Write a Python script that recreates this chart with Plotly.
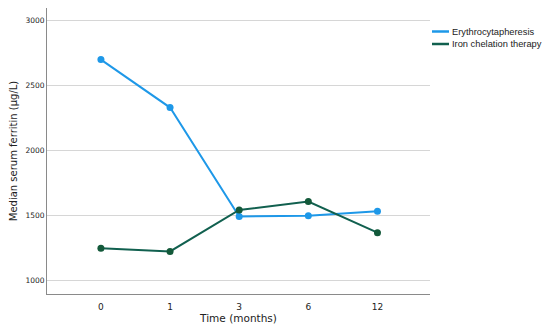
import plotly.graph_objects as go

times = ["0", "1", "3", "6", "12"]
erythro = [2700, 2330, 1490, 1495, 1530]
chelation = [1245, 1220, 1540, 1605, 1365]
series_names = ["Erythrocytapheresis", "Iron chelation therapy"]
y_ticks = [1000, 1500, 2000, 2500, 3000]

blue = "#1e98e8"
green_line = "#11604f"
green_marker = "#13593a"
colors_line = [blue, green_line]

# page body has an 8px margin, so the figure is sized to fit the 550x335 window
OFF = 8
W, H = 550 - OFF, 335 - 2 * OFF
L, R, T, B = 47 - OFF, 120, 0, 33

fig = go.Figure()
fig.add_trace(go.Scatter(x=times, y=erythro, mode="lines+markers", name=series_names[0],
                         line=dict(color=blue, width=2), marker=dict(color=blue, size=7)))
fig.add_trace(go.Scatter(x=times, y=chelation, mode="lines+markers", name=series_names[1],
                         line=dict(color=green_line, width=2), marker=dict(color=green_marker, size=7)))

# manual compact legend (paper coordinates)
pw, ph = W - L - R, H - T - B
def px(x):
    return (x - OFF - L) / pw
def py(y):
    return 1 - (y - OFF - T) / ph

for i, (name, col) in enumerate(zip(series_names, colors_line)):
    yy = 31.5 + i * 12.5
    fig.add_shape(type="line", xref="paper", yref="paper",
                  x0=px(432), x1=px(449), y0=py(yy), y1=py(yy),
                  line=dict(color=col, width=2.5))
    fig.add_annotation(xref="paper", yref="paper", x=px(450), y=py(yy),
                       xanchor="left", yanchor="middle", text=name, showarrow=False,
                       font=dict(size=9.3, family="Liberation Sans", color="#222"))

fig.update_layout(
    width=W, height=H,
    margin=dict(l=L, r=R, t=T, b=B, autoexpand=False),
    paper_bgcolor="white", plot_bgcolor="white",
    font=dict(family="DejaVu Sans", color="#222"),
    showlegend=False,
)
fig.update_xaxes(type="category", range=[-0.78, 4.76], showgrid=False,
                 showline=True, linecolor="#8a8a8a", linewidth=1, ticks="",
                 tickfont=dict(size=9, color="#222"), automargin=False,
                 ticklabelstandoff=4,
                 title=dict(text="Time (months)", font=dict(size=10.5, color="#222"), standoff=2),
                 zeroline=False)
fig.update_yaxes(range=[892, 3098], tickvals=y_ticks, showgrid=True, gridcolor="#d6d6d6",
                 showline=True, linecolor="#8a8a8a", linewidth=1, ticks="",
                 tickfont=dict(size=7.5, color="#222"), automargin=False,
                 title=dict(text="Median serum ferritin (µg/L)", font=dict(size=10, color="#222"), standoff=6),
                 zeroline=False)

fig.write_html("out.html")
